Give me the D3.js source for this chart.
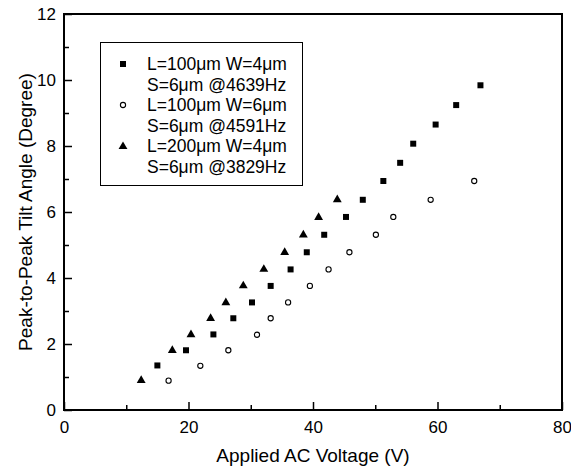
<!DOCTYPE html>
<html>
<head>
<meta charset="utf-8">
<script src="https://cdn.jsdelivr.net/npm/d3@7"></script>
<style>
  html, body { margin: 0; padding: 0; background: #fff; }
  svg { display: block; font-family: "Liberation Sans", Arial, sans-serif; }
</style>
</head>
<body>
<svg id="chart" width="571" height="469"></svg>
<script>
// Peak-to-peak tilt angle vs. applied AC voltage for three device geometries

// L=100µm W=4µm S=6µm @4639Hz (filled squares)
const voltA = [15.0, 19.6, 24.0, 27.2, 30.2, 33.2, 36.4, 39.0, 41.8, 45.3, 48.0, 51.3, 54.0, 56.1, 59.7, 63.0, 66.9];
const angleA = [1.35, 1.81, 2.29, 2.78, 3.26, 3.76, 4.26, 4.78, 5.31, 5.85, 6.37, 6.94, 7.49, 8.07, 8.65, 9.24, 9.84];

// L=100µm W=6µm S=6µm @4591Hz (open circles)
const voltB = [16.8, 21.9, 26.4, 31.0, 33.2, 36.0, 39.5, 42.5, 45.85, 50.1, 52.9, 58.9, 65.9];
const angleB = [0.89, 1.34, 1.81, 2.28, 2.78, 3.26, 3.76, 4.26, 4.78, 5.31, 5.85, 6.37, 6.94];

// L=200µm W=4µm S=6µm @3829Hz (filled triangles)
const voltC = [12.4, 17.4, 20.4, 23.55, 26.0, 28.8, 32.1, 35.45, 38.45, 40.9, 43.9];
const angleC = [0.91, 1.82, 2.30, 2.79, 3.27, 3.78, 4.28, 4.79, 5.32, 5.85, 6.39];

const legendLines = [
  ["L=100\u03bcm W=4\u03bcm", "S=6\u03bcm @4639Hz"],
  ["L=100\u03bcm W=6\u03bcm", "S=6\u03bcm @4591Hz"],
  ["L=200\u03bcm W=4\u03bcm", "S=6\u03bcm @3829Hz"]
];
const seriesShapes = ["square", "circle", "triangle"];

const xTicks = [0, 20, 40, 60, 80];
const xMinorTicks = [10, 30, 50, 70];
const yTicks = [0, 2, 4, 6, 8, 10, 12];
const yMinorTicks = [1, 3, 5, 7, 9, 11];

const xTitle = "Applied AC Voltage (V)";
const yTitle = "Peak-to-Peak Tilt Angle (Degree)";

const margin = { left: 64, right: 9, top: 14, bottom: 59 };
const W = 571, H = 469;
const svg = d3.select("#chart");

const x = d3.scaleLinear().domain([0, 80]).range([margin.left, W - margin.right]);
const y = d3.scaleLinear().domain([0, 12]).range([H - margin.bottom, margin.top]);

const plot = svg.append("g");

// frame
plot.append("rect")
  .attr("x", x(0)).attr("y", y(12))
  .attr("width", x(80) - x(0)).attr("height", y(0) - y(12))
  .attr("fill", "none").attr("stroke", "#000").attr("stroke-width", 2);

// inward ticks, drawn with d3 axes
function styleAxis(g) {
  g.select(".domain").remove();
  g.selectAll(".tick line").attr("stroke", "#000").attr("stroke-width", 1.5);
}

const xAxis = d3.axisBottom(x).tickValues(xTicks).tickSize(-8).tickPadding(11).tickFormat(d3.format("d"));
const xMinor = d3.axisBottom(x).tickValues(xMinorTicks).tickSize(-5).tickFormat("");
const yAxis = d3.axisLeft(y).tickValues(yTicks).tickSize(-8).tickPadding(8).tickFormat(d3.format("d"));
const yMinor = d3.axisLeft(y).tickValues(yMinorTicks).tickSize(-5).tickFormat("");

const gx = plot.append("g").attr("transform", `translate(0,${y(0)})`).call(xAxis).call(styleAxis);
plot.append("g").attr("transform", `translate(0,${y(0)})`).call(xMinor).call(styleAxis);
const gy = plot.append("g").attr("transform", `translate(${x(0)},0)`).call(yAxis).call(styleAxis);
plot.append("g").attr("transform", `translate(${x(0)},0)`).call(yMinor).call(styleAxis);

[gx, gy].forEach(g => g.selectAll(".tick text")
  .attr("fill", "#000").style("font-size", "17px")
  .style("font-family", "'Liberation Sans', Arial, sans-serif"));

// axis titles
svg.append("text")
  .attr("x", (x(0) + x(80)) / 2).attr("y", 462)
  .attr("text-anchor", "middle").style("font-size", "19px")
  .text(xTitle);

svg.append("text")
  .attr("transform", `translate(32,${(y(0) + y(12)) / 2}) rotate(-90)`)
  .attr("text-anchor", "middle").style("font-size", "19px")
  .text(yTitle);

// markers
const symSquare = d3.symbol().type(d3.symbolSquare).size(36);
const symTriangle = d3.symbol().type(d3.symbolTriangle).size(34);

function drawMarker(g, shape, cx, cy) {
  if (shape === "square") {
    g.append("path").attr("d", symSquare()).attr("transform", `translate(${cx},${cy})`).attr("fill", "#000");
  } else if (shape === "triangle") {
    g.append("path").attr("d", symTriangle()).attr("transform", `translate(${cx},${cy + 0.5})`).attr("fill", "#000");
  } else {
    g.append("circle").attr("cx", cx).attr("cy", cy).attr("r", 2.6)
      .attr("fill", "#fff").attr("stroke", "#000").attr("stroke-width", 1.1);
  }
}

const series = [
  { xs: voltA, ys: angleA, shape: seriesShapes[0] },
  { xs: voltB, ys: angleB, shape: seriesShapes[1] },
  { xs: voltC, ys: angleC, shape: seriesShapes[2] }
];

const marks = svg.append("g");
series.forEach(s => {
  s.xs.forEach((v, i) => drawMarker(marks, s.shape, x(v), y(s.ys[i])));
});

// legend
const legend = svg.append("g");
legend.append("rect")
  .attr("x", 100.5).attr("y", 42.5).attr("width", 202).attr("height", 143)
  .attr("fill", "#fff").attr("stroke", "#000").attr("stroke-width", 1);

const lineGap = 20.5;
legendLines.forEach((lines, i) => {
  const base = 70 + i * 2 * lineGap;
  drawMarker(legend, seriesShapes[i], 123, base - 6);
  lines.forEach((t, j) => {
    legend.append("text")
      .attr("x", 147).attr("y", base + j * lineGap)
      .style("font-size", "17.5px")
      .text(t);
  });
});
</script>
</body>
</html>
